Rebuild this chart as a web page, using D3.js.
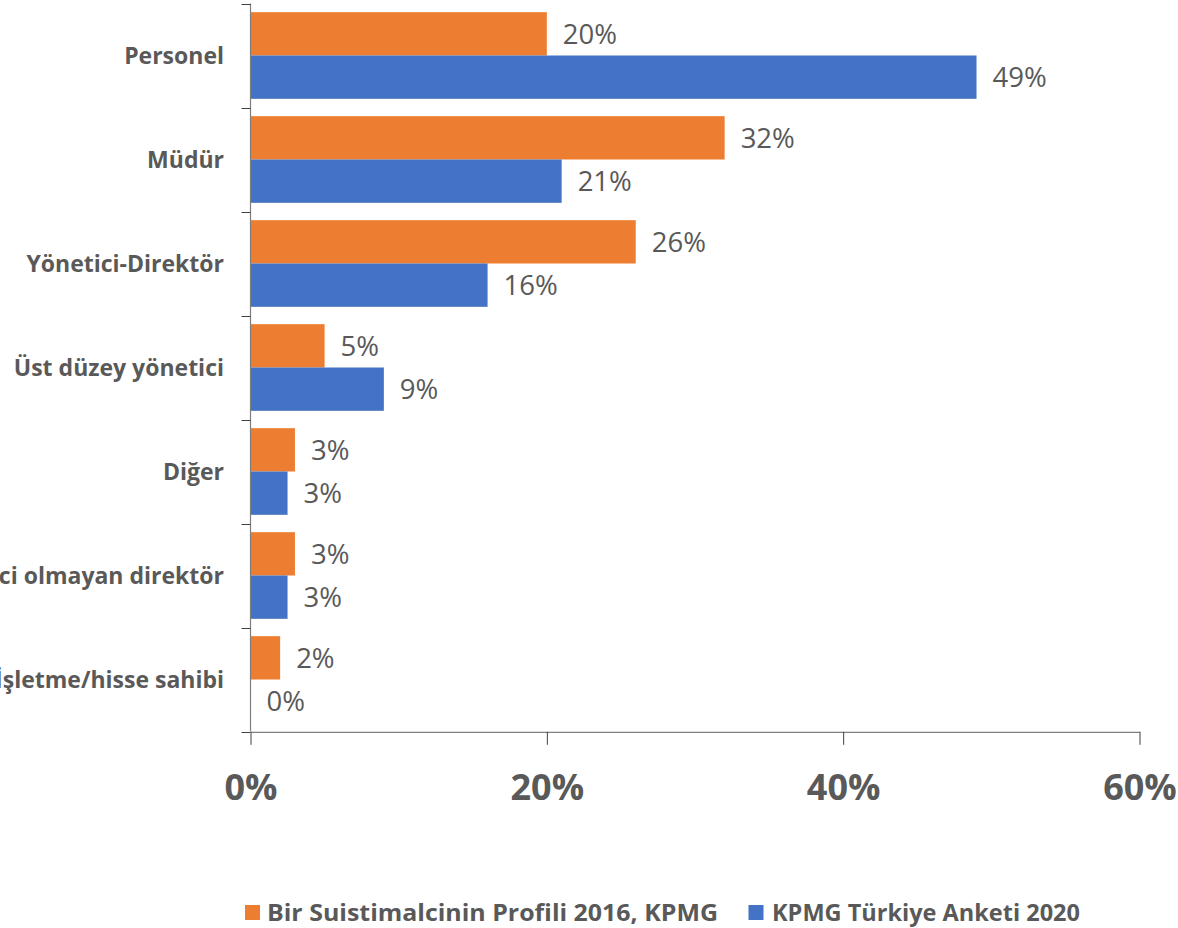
<!DOCTYPE html>
<html>
<head>
<meta charset="utf-8">
<script src="https://cdn.jsdelivr.net/npm/d3@7"></script>
<style>
  html, body { margin: 0; padding: 0; background: #fff; }
  svg { display: block; }
  text { font-family: "Open Sans", sans-serif; fill: #595959; }
</style>
</head>
<body>
<svg id="chart" width="1178" height="928"></svg>
<script>
const categories = ["Personel", "Müdür", "Yönetici-Direktör", "Üst düzey yönetici", "Diğer", "Yönetici olmayan direktör", "İşletme/hisse sahibi"];
const seriesNames = ["Bir Suistimalcinin Profili 2016, KPMG", "KPMG Türkiye Anketi 2020"];
const values2016 = [20, 32, 26, 5, 3, 3, 2];
const values2020 = [49, 21, 16, 9, 2.5, 2.5, 0];
const xTicks = [0, 20, 40, 60];
const colors = ["#ED7D31", "#4472C4"];

const svg = d3.select("#chart");
const x = d3.scaleLinear().domain([0, 60]).range([250.5, 1139.5]);
const y = d3.scaleBand().domain(categories).range([3.5, 731.5]).paddingInner(0.167).paddingOuter(0.0835);
const step = y.step();
const ySub = d3.scaleBand().domain([0, 1]).range([0, y.bandwidth()]);

const data = categories.map((c, i) => ({ cat: c, vals: [values2016[i], values2020[i]] }));

// bars
const groups = svg.append("g").selectAll("g").data(data).join("g")
  .attr("transform", d => `translate(0,${y(d.cat)})`);
groups.selectAll("rect").data(d => d.vals.map((v, k) => ({ v, k }))).join("rect")
  .attr("x", x(0))
  .attr("y", d => ySub(d.k))
  .attr("width", d => x(d.v) - x(0))
  .attr("height", ySub.bandwidth())
  .attr("fill", d => colors[d.k]);
groups.selectAll("text.val").data(d => d.vals.map((v, k) => ({ v, k }))).join("text")
  .attr("class", "val")
  .attr("x", d => x(d.v) + 16)
  .attr("y", d => ySub(d.k) + ySub.bandwidth() / 2 + 10)
  .attr("font-size", 27.5)
  .text(d => Math.round(d.v) + "%");

// y axis
const yTop = 3.5, yBot = 731.5;
svg.append("line").attr("x1", 250.5).attr("x2", 250.5).attr("y1", yTop).attr("y2", yBot)
  .attr("stroke", "#7f7f7f").attr("stroke-width", 1.2);
const boundaries = d3.range(categories.length + 1).map(i => yTop + i * step);
svg.append("g").selectAll("line").data(boundaries).join("line")
  .attr("x1", 241.5).attr("x2", 250.5)
  .attr("y1", d => Math.round(d) + 0.5).attr("y2", d => Math.round(d) + 0.5)
  .attr("stroke", "#404040").attr("stroke-width", 1);
svg.append("g").selectAll("text").data(categories).join("text")
  .attr("x", 224)
  .attr("y", d => y(d) + y.bandwidth() / 2 + 8.5)
  .attr("text-anchor", "end")
  .attr("font-size", 23)
  .attr("font-weight", "bold")
  .text(d => d);

// x axis
const xAxis = svg.append("g").attr("transform", `translate(0,${yBot + 0.3})`)
  .call(d3.axisBottom(x).tickValues(xTicks).tickSize(13).tickSizeOuter(0).tickFormat(d => d + "%"));
xAxis.select(".domain").attr("stroke", "#7f7f7f").attr("stroke-width", 1.2);
xAxis.selectAll(".tick line").attr("stroke", "#404040");
xAxis.selectAll(".tick text")
  .attr("y", 0).attr("dy", null)
  .attr("transform", "translate(0,68)")
  .style("font-family", "'Open Sans', sans-serif")
  .attr("font-size", 36).attr("font-weight", "bold").attr("fill", "#595959");

// legend
const legendItems = [
  { name: seriesNames[0], color: colors[0], sx: 245, tx: 267, w: 451 },
  { name: seriesNames[1], color: colors[1], sx: 748.5, tx: 772, w: 308 }
];
const lg = svg.append("g").selectAll("g").data(legendItems).join("g");
lg.append("rect").attr("x", d => d.sx).attr("y", 905).attr("width", 15).attr("height", 15)
  .attr("fill", d => d.color);
lg.append("text").attr("x", d => d.tx).attr("y", 921)
  .attr("font-size", 24).attr("font-weight", "bold")
  .attr("textLength", d => d.w).attr("lengthAdjust", "spacingAndGlyphs")
  .text(d => d.name);
</script>
</body>
</html>
